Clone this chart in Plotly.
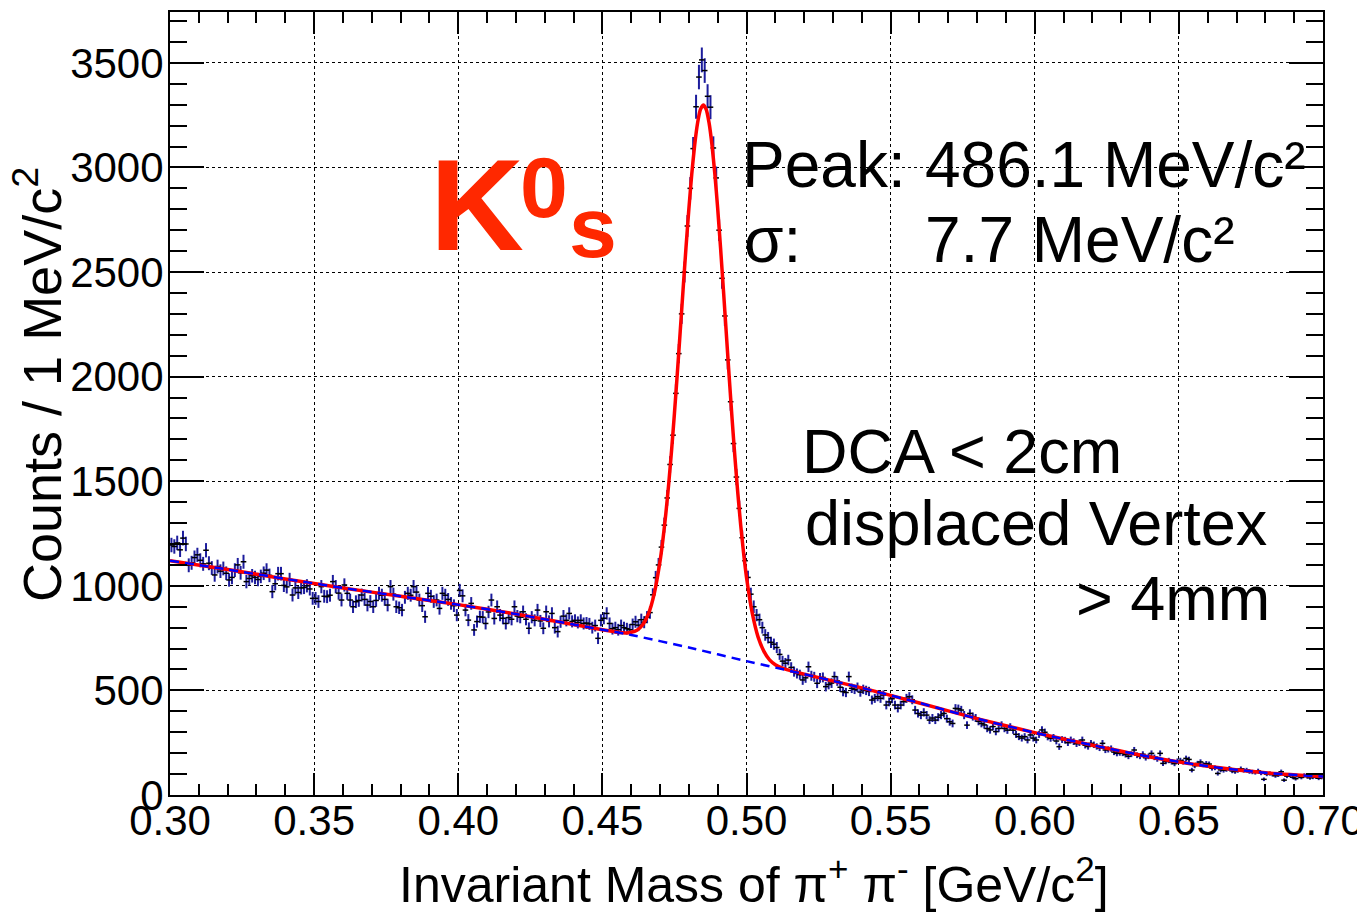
import numpy as np
import plotly.graph_objects as go

# ---------------- data ----------------
bin_low = 0.300          # GeV/c^2, first bin edge
bin_width = 0.001        # 1 MeV bins

counts = [
    # 0.300 - 0.349
    1195, 1188, 1205, 1172, 1228, 1200, 1098, 1110, 1135, 1148,
    1122, 1105, 1170, 1108, 1085, 1052, 1092, 1070, 1083, 1060,
    1028, 1040, 1075, 1100, 1062, 1115, 1020, 1035, 1048, 1040,
    1030, 1045, 1060, 1075, 1050, 972, 1010, 1058, 1058, 1002,
    995, 1030, 956, 990, 968, 990, 992, 1000, 985, 940,
    # 0.350 - 0.399
    940, 925, 996, 950, 948, 955, 1020, 996, 965, 932,
    1004, 964, 932, 900, 924, 930, 956, 935, 908, 925,
    900, 930, 964, 955, 935, 908, 996, 960, 900, 895,
    884, 945, 964, 955, 996, 970, 932, 905, 852, 964,
    950, 925, 932, 892, 964, 955, 935, 916, 905, 860,
    # 0.400 - 0.449
    978, 952, 884, 836, 916, 789, 829, 852, 850, 820,
    875, 932, 844, 900, 860, 845, 820, 848, 840, 900,
    855, 850, 876, 840, 797, 850, 835, 884, 832, 797,
    876, 830, 868, 800, 781, 828, 855, 835, 868, 830,
    835, 825, 835, 820, 822, 818, 800, 810, 749, 835,
    # 0.450 - 0.499
    845, 868, 820, 795, 800, 790, 810, 800, 795, 790,
    815, 828, 812, 838, 826, 850, 872, 957, 1039, 1100,
    1185, 1290, 1420, 1580, 1720, 1920, 2110, 2300, 2500, 2720,
    2900, 3090, 3290, 3432, 3514, 3463, 3340, 3288, 3093, 2950,
    2700, 2470, 2290, 2080, 1880, 1680, 1520, 1370, 1230, 1120,
    # 0.500 - 0.549
    1040, 960, 900, 860, 838, 800, 765, 752, 730, 721,
    705, 672, 640, 630, 645, 610, 590, 581, 575, 550,
    560, 613, 570, 565, 534, 560, 562, 518, 528, 535,
    566, 545, 515, 494, 490, 566, 510, 505, 515, 492,
    505, 500, 495, 454, 462, 470, 462, 478, 430, 445,
    # 0.550 - 0.599
    460, 430, 415, 430, 446, 462, 470, 455, 406, 390,
    382, 395, 382, 358, 368, 358, 372, 382, 390, 365,
    350, 342, 414, 412, 406, 382, 334, 390, 375, 368,
    352, 342, 335, 318, 311, 327, 303, 318, 334, 318,
    310, 325, 310, 290, 279, 272, 279, 263, 287, 272,
    # 0.600 - 0.649
    263, 290, 311, 300, 278, 271, 275, 258, 231, 265,
    262, 250, 263, 255, 245, 250, 263, 238, 232, 247,
    240, 232, 225, 247, 215, 218, 222, 205, 199, 202,
    200, 193, 185, 195, 215, 190, 185, 195, 178, 185,
    199, 180, 172, 199, 151, 160, 165, 158, 150, 162,
    # 0.650 - 0.699
    165, 158, 175, 170, 119, 140, 151, 158, 145, 150,
    148, 128, 130, 103, 120, 118, 122, 127, 115, 112,
    118, 125, 118, 119, 112, 110, 108, 115, 105, 75,
    100, 103, 98, 92, 96, 111, 71, 90, 95, 85,
    78, 90, 84, 94, 88, 82, 85, 86, 80, 84,
]
assert len(counts) == 400, len(counts)

# total fit (signal + background), sampled off the red curve
fit_x = [0.300, 0.320, 0.340, 0.360, 0.380, 0.400, 0.420, 0.440, 0.450, 0.456,
         0.458, 0.460, 0.462, 0.464, 0.466, 0.468, 0.470, 0.471, 0.472, 0.473,
         0.474, 0.475, 0.476, 0.477, 0.478, 0.479, 0.480, 0.481, 0.482, 0.483,
         0.484, 0.485, 0.486, 0.487, 0.488, 0.489, 0.490, 0.491, 0.492, 0.493,
         0.494, 0.495, 0.496, 0.497, 0.498, 0.499, 0.500, 0.502, 0.504, 0.506,
         0.508, 0.510, 0.512, 0.514, 0.520, 0.540, 0.560, 0.580, 0.600, 0.620,
         0.640, 0.660, 0.680, 0.700]
fit_y = [1120, 1078, 1033, 990, 950, 910, 865, 815, 790, 777,
         775, 778, 788, 814, 867, 963, 1117, 1220, 1343, 1485,
         1646, 1824, 2015, 2215, 2417, 2615, 2801, 2967, 3105, 3210,
         3276, 3299, 3278, 3214, 3110, 2972, 2804, 2615, 2413, 2205,
         1998, 1798, 1611, 1441, 1288, 1155, 1041, 869, 756, 688,
         646, 623, 609, 599, 578, 512, 440, 365, 298, 238,
         182, 137, 106, 88]

# background component of the fit (blue dashed)
bg_x = [0.300, 0.320, 0.340, 0.360, 0.380, 0.400, 0.420, 0.440, 0.460, 0.480,
        0.500, 0.520, 0.540, 0.560, 0.580, 0.600, 0.620, 0.640, 0.660, 0.680, 0.700]
bg_y = [1120, 1078, 1033, 990, 950, 910, 865, 815, 765, 705,
        640, 578, 512, 440, 365, 298, 238, 182, 137, 106, 88]

x_ticks = [0.30, 0.35, 0.40, 0.45, 0.50, 0.55, 0.60, 0.65, 0.70]
y_ticks = [0, 500, 1000, 1500, 2000, 2500, 3000, 3500]

# ---------------- figure ----------------
centers = bin_low + bin_width * (np.arange(len(counts)) + 0.5)
errors = np.sqrt(np.array(counts, dtype=float))

FONT = "Liberation Sans, Arial, Helvetica, sans-serif"
BODY = 8                       # default page margin around the plot div
W, H = 1365 - BODY, 912 - BODY
L, R, T, B = 162, 42, 4, 117
PL, PT = BODY + L, BODY + T    # plot area corner in page pixels
PW, PH = W - L - R, H - T - B


def px(xp):
    return (xp - PL) / PW


def py(yp):
    return (PT + PH - yp) / PH


fig = go.Figure()
fig.add_trace(go.Scatter(
    x=centers, y=counts, mode="markers",
    marker=dict(symbol="line-ew", size=4, color="black",
                line=dict(width=1.5, color="black")),
    error_y=dict(type="data", array=errors, color="#1c1c9c",
                 thickness=2, width=0),
    showlegend=False, hoverinfo="x+y",
))
fig.add_trace(go.Scatter(
    x=fit_x, y=fit_y, mode="lines",
    line=dict(color="#ff0000", width=3.5, shape="spline", smoothing=0.5),
    showlegend=False,
))
fig.add_trace(go.Scatter(
    x=bg_x, y=bg_y, mode="lines",
    line=dict(color="#0000ff", width=2.5, dash="9px,6px", shape="spline",
              smoothing=0.5),
    showlegend=False,
))

ann = []


def text(xp, yc, s, size, color="black", anchor="left", bold=False, angle=0):
    ann.append(dict(
        x=px(xp), y=py(yc), xref="paper", yref="paper", text=s,
        showarrow=False, xanchor=anchor, yanchor="middle", textangle=angle,
        font=dict(family=FONT, size=size, color=color,
                  weight="bold" if bold else "normal"),
    ))


KCOL = "#ff2800"
text(428, 250 - 0.3465 * 130, "K", 130, KCOL, bold=True)
text(518, 217 - 0.3465 * 86, "0", 86, KCOL, bold=True)
text(567, 257 - 0.3465 * 86, "s", 86, KCOL, bold=True)

text(740, 187 - 0.3465 * 64, "Peak:", 64)
text(923, 187 - 0.3465 * 64, "486.1 MeV/c²", 64)
text(742, 262 - 0.3465 * 64, "σ:", 64)
text(923, 262 - 0.3465 * 64, "7.7 MeV/c²", 64)

text(800, 473 - 0.3465 * 63, "DCA &lt; 2cm", 63)
text(803, 545 - 0.3465 * 63, "displaced Vertex", 63)
text(1272, 620 - 0.3465 * 63, "&gt; 4mm", 63, anchor="right")

# axis titles
text(754, 898 - 0.3465 * 50,
     "Invariant Mass of π<sup>+</sup> π<sup>-</sup> [GeV/c<sup>2</sup>]",
     50, anchor="center")
text(38, 385, "Counts / 1 MeV/c<sup>2</sup>", 54,
     anchor="center", angle=-90)

axis_common = dict(
    showline=True, linecolor="black", linewidth=2, mirror="allticks",
    ticks="inside", tickcolor="black", tickwidth=2,
    showgrid=True, gridcolor="black", griddash="dot", gridwidth=1,
    zeroline=False, automargin=False,
    tickfont=dict(family=FONT, size=42, color="black"),
)

fig.update_layout(
    width=W, height=H,
    margin=dict(l=L, r=R, t=T, b=B, autoexpand=False),
    paper_bgcolor="white", plot_bgcolor="white",
    font=dict(family=FONT, color="black"),
    annotations=ann,
    xaxis=dict(range=[0.30, 0.70], tickvals=x_ticks,
               ticktext=[f"{v:.2f}" for v in x_ticks], ticklen=22,
               ticklabelstandoff=-12,
               minor=dict(dtick=0.01, tick0=0.30, ticklen=11, tickwidth=2,
                          ticks="inside", tickcolor="black", showgrid=False),
               **axis_common),
    yaxis=dict(range=[0, 3743], tickvals=y_ticks,
               ticktext=[str(v) for v in y_ticks], ticklen=34,
               ticklabelstandoff=-4,
               minor=dict(dtick=100, tick0=0, ticklen=17, tickwidth=2,
                          ticks="inside", tickcolor="black", showgrid=False),
               **axis_common),
)

fig.write_html("out.html")
